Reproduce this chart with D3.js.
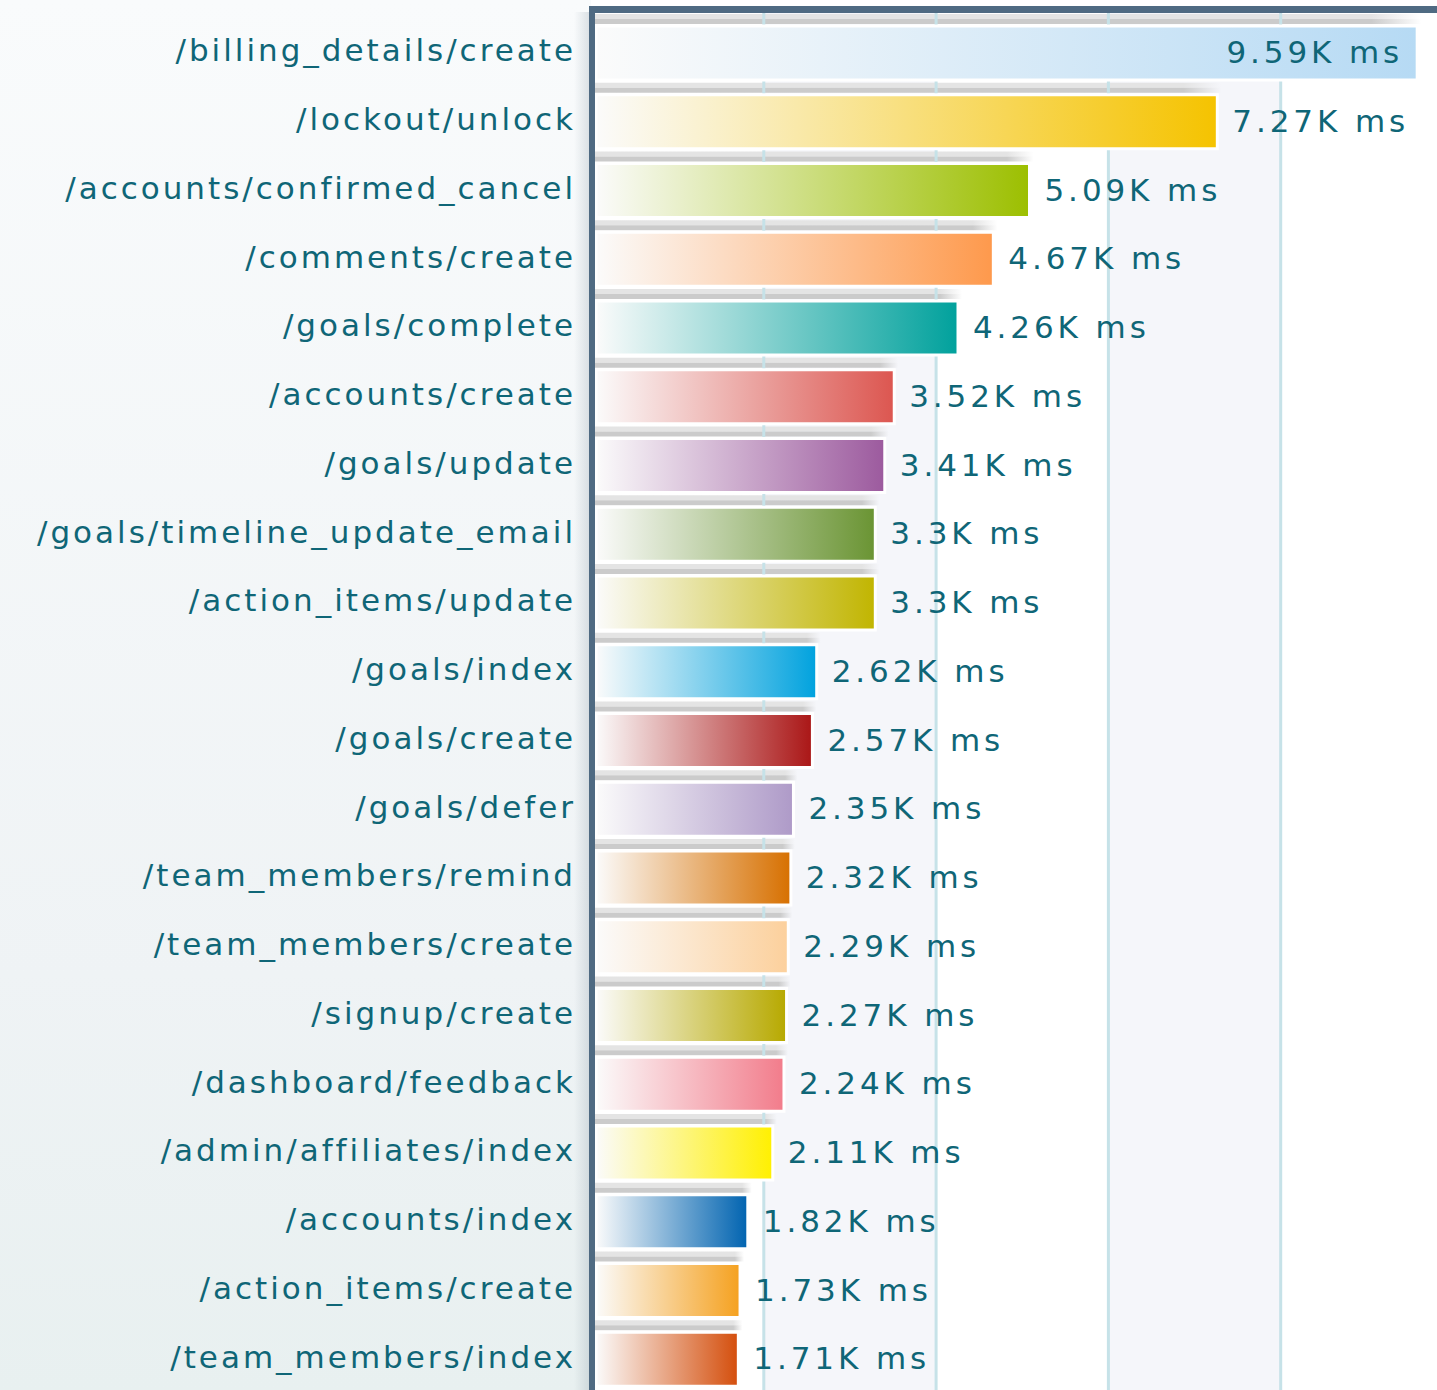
<!DOCTYPE html>
<meta charset="utf-8">
<style>
  body { margin: 0; background: #f9fafb; }
  text { font-family: "DejaVu Sans", Verdana, sans-serif; }
</style>
<svg width="1437" height="1390"></svg>
<script src="https://cdn.jsdelivr.net/npm/d3@7"></script>
<script>
var categories = ["/billing_details/create", "/lockout/unlock", "/accounts/confirmed_cancel",
  "/comments/create", "/goals/complete", "/accounts/create", "/goals/update",
  "/goals/timeline_update_email", "/action_items/update", "/goals/index", "/goals/create",
  "/goals/defer", "/team_members/remind", "/team_members/create", "/signup/create",
  "/dashboard/feedback", "/admin/affiliates/index", "/accounts/index",
  "/action_items/create", "/team_members/index"];
var valuesMs = [9590, 7270, 5090, 4670, 4260, 3520, 3410, 3300, 3300, 2620,
  2570, 2350, 2320, 2290, 2270, 2240, 2110, 1820, 1730, 1710];
var barColors = ["#b6daf4", "#f5c300", "#9cbf00", "#fe994c", "#00a19c", "#dc5650",
  "#9c5a9e", "#6a9433", "#c1b500", "#00a2de", "#aa1616", "#ae9ac8", "#d77000",
  "#fcd09c", "#b7a900", "#f27c8b", "#fff000", "#0063b0", "#f5a11f", "#d44e0c"];
var tickValues = [0, 2000, 4000, 6000, 8000, 10000];

var svg = d3.select("svg"),
    width = +svg.attr("width"),
    height = +svg.attr("height");

var x = d3.scaleLinear().domain([0, 10000]).range([591, 1452.5]);
var y = d3.scaleBand().domain(categories).range([14, 1389]);
var fmt = function(v) { return d3.format(".3~")(v / 1000) + "K ms"; };

var defs = svg.append("defs");

// page background, slightly darker towards the bottom on the label side
var bg = defs.append("linearGradient").attr("id", "bg")
    .attr("x1", 0).attr("y1", 0).attr("x2", 0).attr("y2", 1);
bg.append("stop").attr("offset", 0).attr("stop-color", "#f9fbfc");
bg.append("stop").attr("offset", 0.7).attr("stop-color", "#eff3f5");
bg.append("stop").attr("offset", 1).attr("stop-color", "#e8f0f0");
svg.append("rect").attr("width", x(0)).attr("height", height).attr("fill", "url(#bg)");
svg.append("rect").attr("x", x(0)).attr("width", width - x(0)).attr("height", height).attr("fill", "#ffffff");

// alternating column bands
var bands = d3.pairs(tickValues);
svg.append("g").selectAll("rect").data(bands).join("rect")
    .attr("x", function(d) { return x(d[0]); })
    .attr("y", 12)
    .attr("width", function(d) { return x(d[1]) - x(d[0]); })
    .attr("height", height - 12)
    .attr("fill", function(d, i) { return i % 2 ? "#f5f6fa" : "#ffffff"; });

// soft shadow to the left of the axis
var sh = defs.append("linearGradient").attr("id", "axisShadow");
sh.append("stop").attr("offset", 0).attr("stop-color", "#8a9aa6").attr("stop-opacity", 0);
sh.append("stop").attr("offset", 1).attr("stop-color", "#8a9aa6").attr("stop-opacity", 0.28);
svg.append("rect").attr("x", 574).attr("y", 12).attr("width", 16).attr("height", height)
    .attr("fill", "url(#axisShadow)");

// grey strips above each bar, fading at their right end
[["stripLight", "#e4e4e4"], ["stripDark", "#cbcbcb"]].forEach(function(s) {
  var g = defs.append("linearGradient").attr("id", s[0]);
  g.append("stop").attr("offset", 0).attr("stop-color", s[1]);
  g.append("stop").attr("offset", 0.94).attr("stop-color", s[1]);
  g.append("stop").attr("offset", 1).attr("stop-color", s[1]).attr("stop-opacity", 0);
});
var strips = svg.append("g").selectAll("g").data(valuesMs).join("g");
strips.append("rect")
    .attr("x", x(0)).attr("y", function(d, i) { return y(categories[i]); })
    .attr("width", function(d) { return x(d) - x(0) + 4; })
    .attr("height", 5).attr("fill", "url(#stripLight)");
strips.append("rect")
    .attr("x", x(0)).attr("y", function(d, i) { return y(categories[i]) + 5; })
    .attr("width", function(d) { return x(d) - x(0) + 4; })
    .attr("height", 5).attr("fill", "url(#stripDark)");

// gridlines
svg.append("g")
    .attr("transform", "translate(0,12)")
    .call(d3.axisTop(x).tickValues(tickValues.slice(1)).tickSize(-height).tickFormat(""))
    .call(function(g) { g.select(".domain").remove(); })
    .selectAll("line").attr("stroke", "#c6e2e8").attr("stroke-width", 3);

// bar gradients
barColors.forEach(function(c, i) {
  var g = defs.append("linearGradient").attr("id", "bar" + i);
  g.append("stop").attr("offset", 0).attr("stop-color", "#fbfbfb");
  g.append("stop").attr("offset", 1).attr("stop-color", c);
});

svg.append("g").selectAll("rect").data(valuesMs).join("rect")
    .attr("x", x(0) + 5)
    .attr("y", function(d, i) { return y(categories[i]) + 12; })
    .attr("width", function(d) { return x(d) - x(0) - 5; })
    .attr("height", 54)
    .attr("fill", function(d, i) { return "url(#bar" + i + ")"; })
    .attr("stroke", "#ffffff")
    .attr("stroke-width", 3);

// frame: top border and left axis line
svg.append("line").attr("x1", 589).attr("x2", width).attr("y1", 9.5).attr("y2", 9.5)
    .attr("stroke", "#4f6a82").attr("stroke-width", 7);
svg.append("line").attr("x1", 592).attr("x2", 592).attr("y1", 6).attr("y2", height)
    .attr("stroke", "#4f6a82").attr("stroke-width", 6);

// category labels
svg.append("g")
    .attr("transform", "translate(" + x(0) + ",0)")
    .call(d3.axisLeft(y).tickSize(0).tickPadding(15))
    .call(function(g) { g.select(".domain").remove(); })
    .selectAll("text")
    .attr("dy", "0.42em")
    .attr("font-size", 31)
    .attr("letter-spacing", 3)
    .attr("fill", "#0f6677")
    .attr("font-family", "DejaVu Sans, sans-serif");

// value labels
svg.append("g").selectAll("text").data(valuesMs).join("text")
    .attr("y", function(d, i) { return y(categories[i]) + 38; })
    .attr("dy", "0.36em")
    .attr("font-size", 31)
    .attr("letter-spacing", 3.9)
    .attr("fill", "#0f6677")
    .text(fmt)
    .each(function(d) {
      var t = d3.select(this), w = this.getComputedTextLength();
      if (x(d) + 15 + w > width) t.attr("x", x(d) - 14).attr("text-anchor", "end");
      else t.attr("x", x(d) + 15);
    });
</script>
